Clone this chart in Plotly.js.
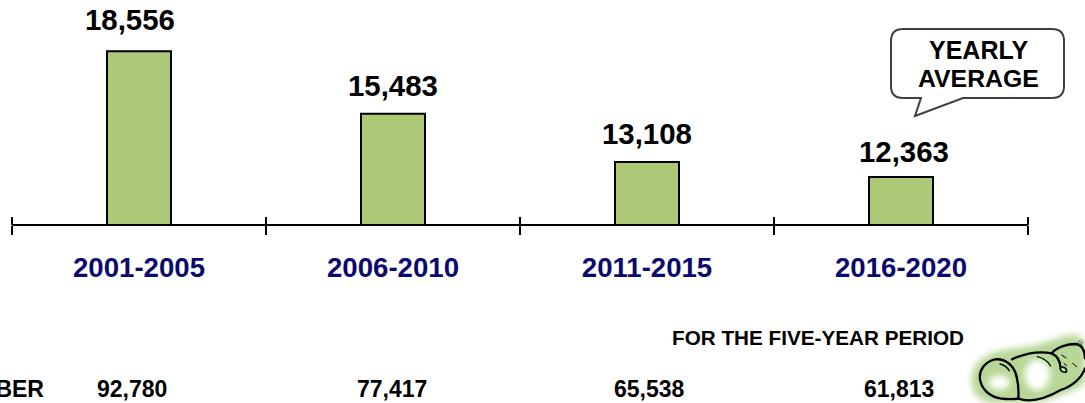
<!DOCTYPE html>
<html>
<head>
<meta charset="utf-8">
<script src="https://cdn.plot.ly/plotly-3.0.1.min.js"></script>
<style>html,body{margin:0;padding:0;background:#fff;overflow:hidden}#c{width:1085px;height:403px}</style>
</head>
<body>
<div id="c"></div>
<script>
const periods = ["2001-2005", "2006-2010", "2011-2015", "2016-2020"];
const yearlyAverage = [18556, 15483, 13108, 12363];
const fiveYearTotal = [92780, 77417, 65538, 61813];
const rowLabel = "NUMBER";
const periodNote = "FOR THE FIVE-YEAR PERIOD";
const calloutLines = ["YEARLY", "AVERAGE"];

const W = 1085, H = 403, L = 12, R = 1028, AXIS_Y = 224;
const labelShiftX = [-9, 0, 0, 3];
const labelShiftY = [13, 10, 10, 7];
const totalX = [132, 392, 649, 899];
const px = x => (x - L) / (R - L);
const py = y => 1 - y / H;
const fmt = v => v.toLocaleString("en-US");
const FONT = "Liberation Sans, Arial, sans-serif";

function P(x, y) { return px(x) + "," + py(y); }
const callout = "M" + P(903, 29) + " L" + P(1052, 29) +
  " Q" + P(1064, 29) + " " + P(1064, 41) + " L" + P(1064, 86) +
  " Q" + P(1064, 98) + " " + P(1052, 98) + " L" + P(963, 98) +
  " L" + P(915, 116) + " L" + P(921, 98) + " L" + P(903, 98) +
  " Q" + P(891, 98) + " " + P(891, 86) + " L" + P(891, 41) +
  " Q" + P(891, 29) + " " + P(903, 29) + " Z";

const babySvg = `<svg xmlns="http://www.w3.org/2000/svg" width="405" height="249" viewBox="0 0 405 249">
<defs><filter id="b" x="-30%" y="-30%" width="160%" height="160%"><feGaussianBlur stdDeviation="10"/></filter></defs>
<path filter="url(#b)" fill="#b7d796" d="M65,190 C62,130 105,95 180,88 C250,78 300,65 345,48 C385,38 405,50 405,90 L405,190 C370,215 320,232 260,249 L120,249 C85,240 68,220 65,190 Z"/>
<ellipse filter="url(#b)" cx="148" cy="188" rx="32" ry="22" fill="#ffffff"/>
<ellipse filter="url(#b)" cx="262" cy="165" rx="38" ry="46" fill="#ffffff"/>
<g fill="none" stroke="#000" stroke-linecap="round" stroke-linejoin="round">
<path stroke-width="7" d="M200,170 C192,135 165,115 135,118 C105,125 86,150 90,178 C94,205 115,228 150,235 C170,238 190,238 205,236"/>
<path stroke-width="7" d="M186,118 C225,100 265,92 305,100 C322,108 330,125 331,140"/>
<path stroke-width="7" d="M200,170 C206,195 206,220 205,236 C235,246 280,240 332,210 C365,200 395,175 405,145"/>
<path stroke-width="7" d="M305,100 C320,82 350,72 378,72 C396,74 404,88 405,115"/>
<path stroke-width="5" d="M330,145 C340,136 352,145 349,156 C340,158 332,154 330,145 Z"/>
<path stroke-width="4" d="M150,132 C162,135 172,142 178,152"/>
<path stroke-width="4" d="M262,110 C280,114 294,124 302,138"/>
<path stroke-width="3" d="M335,105 L348,114 M368,130 L380,140 M342,130 L350,137"/>
<path stroke-width="2" stroke="#444" d="M380,76 L390,60 M386,78 L396,62 M392,80 L400,66"/>
</g></svg>`;
const babyUri = "data:image/svg+xml;utf8," + encodeURIComponent(babySvg);

const annotations = [];
function note(text, x, y, size, anchor) {
  annotations.push({ text: "<b>" + text + "</b>", x, y, xref: "paper", yref: "paper",
    xanchor: anchor || "center", yanchor: "middle", showarrow: false,
    font: { family: FONT, size, color: "#000" } });
}
periods.forEach((p, i) => {
  annotations.push({ text: "<b>" + fmt(yearlyAverage[i]) + "</b>", x: p, y: yearlyAverage[i],
    xref: "x", yref: "y", yanchor: "bottom", xanchor: "center",
    xshift: labelShiftX[i], yshift: labelShiftY[i], showarrow: false,
    font: { family: FONT, size: 29.4, color: "#000" } });
  note(fmt(fiveYearTotal[i]), px(totalX[i]), py(389), 23);
});
note(periodNote, px(966), py(337), 20.7, "right");
note(rowLabel, px(46), py(389), 23, "right");
note(calloutLines[0], px(978), py(50), 25);
note(calloutLines[1], px(978), py(78), 24.8);

const shapes = [{ type: "path", xref: "paper", yref: "paper", path: callout,
  line: { color: "#404040", width: 2 }, fillcolor: "#fff", layer: "below" }];
for (let i = 0; i <= periods.length; i++) {
  const x = i / periods.length;
  shapes.push({ type: "line", xref: "paper", yref: "paper", x0: x, x1: x,
    y0: py(AXIS_Y + 1), y1: py(217), line: { color: "#000", width: 2 }, layer: "above" });
}

const layout = {
  width: W, height: H, margin: { l: L, r: W - R, t: 0, b: 0, pad: 0 },
  paper_bgcolor: "#fff", plot_bgcolor: "rgba(0,0,0,0)", showlegend: false, bargap: 0.748,
  xaxis: {
    type: "category", categoryorder: "array", categoryarray: periods, range: [-0.5, 3.5],
    tickson: "boundaries", showline: true, linecolor: "#000", linewidth: 2,
    ticks: "outside", tickcolor: "#000", tickwidth: 2, ticklen: 9,
    showgrid: false, zeroline: false, fixedrange: true, anchor: "y",
    tickfont: { family: FONT, size: 27.6, color: "#0a0a6e", weight: 700 }, ticklabelstandoff: 18
  },
  yaxis: { domain: [1 - AXIS_Y / H, 1], range: [10050, 21082], visible: false, fixedrange: true },
  annotations, shapes,
  images: [{ source: babyUri, xref: "paper", yref: "paper", x: px(950), y: py(320),
    sizex: 135 / (R - L), sizey: 83 / H, xanchor: "left", yanchor: "top", sizing: "stretch", layer: "above" }]
};

const traces = [
  { type: "bar", x: periods, y: yearlyAverage,
    marker: { color: "#adc978", line: { color: "#000", width: 2 } }, hoverinfo: "skip" }
];
Plotly.newPlot("c", traces, layout, { displayModeBar: false, staticPlot: true });
</script>
</body>
</html>
